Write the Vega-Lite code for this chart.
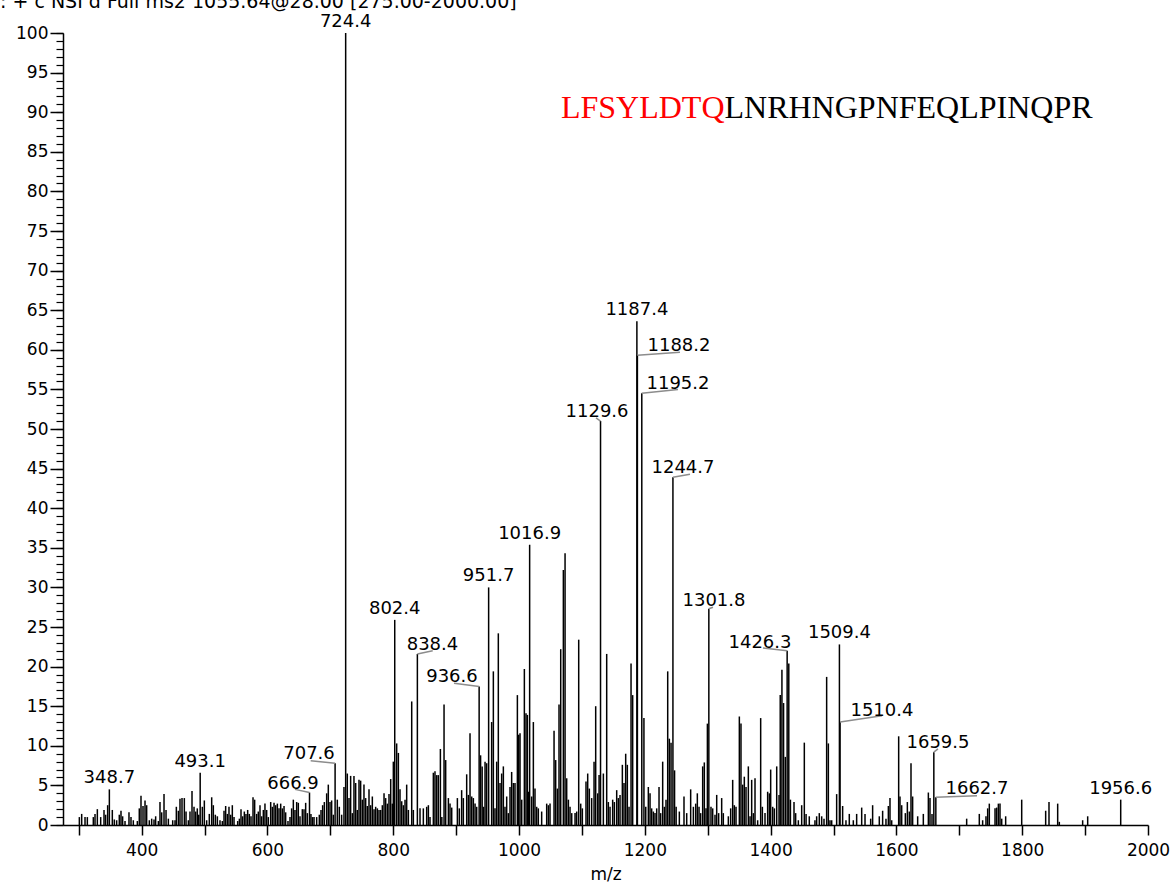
{
  "$schema": "https://vega.github.io/schema/vega-lite/v6.json",
  "autosize": {"type": "none"},
  "width": 1085,
  "height": 792,
  "padding": {"left": 63, "top": 33, "right": 26, "bottom": 61},
  "background": "white",
  "config": {
    "view": {"stroke": null},
    "font": "DejaVu Sans",
    "axis": {"grid": false, "domainColor": "black", "tickColor": "black", "labelColor": "black", "titleColor": "black", "labelFont": "DejaVu Sans", "titleFont": "DejaVu Sans"}
  },
  "title": {
    "text": ": + c NSI d Full ms2 1055.64@28.00 [275.00-2000.00]",
    "anchor": "start",
    "frame": "group",
    "dx": -63,
    "dy": 1,
    "offset": 2,
    "fontSize": 19,
    "fontWeight": "normal",
    "font": "DejaVu Sans",
    "color": "black"
  },
  "datasets": {
    "peaks": [
      {"mz":301.0,"i":1.0},{"mz":304.7,"i":1.4},{"mz":310.0,"i":1.0},{"mz":313.7,"i":1.0},{"mz":323.2,"i":1.0},{"mz":325.9,"i":1.4},{"mz":329.6,"i":2.0},{"mz":334.9,"i":1.0},{"mz":340.2,"i":1.9},{"mz":342.8,"i":1.3},{"mz":346.0,"i":2.5},{"mz":348.7,"i":4.5},{"mz":353.4,"i":1.9},{"mz":356.6,"i":0.7},{"mz":360.3,"i":0.6},{"mz":364.5,"i":1.3},{"mz":367.2,"i":1.8},{"mz":369.8,"i":1.1},{"mz":373.6,"i":0.5},{"mz":379.9,"i":1.6},{"mz":383.1,"i":1.0},{"mz":386.8,"i":0.6},{"mz":393.2,"i":0.5},{"mz":396.3,"i":2.1},{"mz":399.0,"i":3.7},{"mz":402.2,"i":2.4},{"mz":405.4,"i":3.1},{"mz":408.0,"i":2.5},{"mz":412.2,"i":0.6},{"mz":416.0,"i":0.8},{"mz":419.7,"i":0.7},{"mz":422.3,"i":1.1},{"mz":426.6,"i":0.5},{"mz":429.2,"i":2.9},{"mz":431.9,"i":1.6},{"mz":435.6,"i":3.9},{"mz":438.8,"i":1.9},{"mz":442.5,"i":0.8},{"mz":449.4,"i":0.6},{"mz":453.1,"i":0.6},{"mz":455.2,"i":2.3},{"mz":458.4,"i":1.8},{"mz":461.0,"i":3.3},{"mz":464.2,"i":3.4},{"mz":467.9,"i":3.4},{"mz":470.6,"i":1.7},{"mz":474.3,"i":0.6},{"mz":476.9,"i":1.7},{"mz":480.1,"i":4.3},{"mz":483.3,"i":2.3},{"mz":485.9,"i":1.7},{"mz":488.5,"i":2.1},{"mz":490.8,"i":1.3},{"mz":493.1,"i":6.6},{"mz":496.5,"i":2.3},{"mz":499.7,"i":3.1},{"mz":503.4,"i":0.6},{"mz":507.6,"i":1.4},{"mz":511.4,"i":3.5},{"mz":514.0,"i":2.5},{"mz":517.2,"i":1.3},{"mz":520.4,"i":1.1},{"mz":524.6,"i":0.6},{"mz":528.3,"i":0.5},{"mz":531.0,"i":1.8},{"mz":533.6,"i":2.4},{"mz":536.3,"i":1.4},{"mz":538.9,"i":2.3},{"mz":541.6,"i":1.3},{"mz":544.2,"i":2.5},{"mz":546.9,"i":1.0},{"mz":552.7,"i":0.5},{"mz":555.4,"i":0.8},{"mz":558.0,"i":2.0},{"mz":560.6,"i":1.1},{"mz":563.3,"i":1.7},{"mz":565.9,"i":1.4},{"mz":568.6,"i":1.9},{"mz":571.2,"i":1.4},{"mz":573.9,"i":1.1},{"mz":577.1,"i":3.5},{"mz":579.7,"i":3.2},{"mz":582.9,"i":1.4},{"mz":585.5,"i":1.7},{"mz":588.2,"i":2.5},{"mz":590.8,"i":1.1},{"mz":593.5,"i":1.9},{"mz":596.1,"i":2.7},{"mz":598.8,"i":1.9},{"mz":601.4,"i":1.0},{"mz":605.2,"i":2.9},{"mz":607.8,"i":2.3},{"mz":610.5,"i":2.8},{"mz":613.1,"i":2.5},{"mz":615.8,"i":2.7},{"mz":618.4,"i":2.1},{"mz":621.1,"i":2.7},{"mz":623.7,"i":2.1},{"mz":626.4,"i":2.4},{"mz":629.0,"i":1.6},{"mz":632.7,"i":0.5},{"mz":635.9,"i":1.0},{"mz":638.5,"i":2.1},{"mz":641.2,"i":3.2},{"mz":643.8,"i":1.9},{"mz":646.5,"i":2.9},{"mz":649.1,"i":2.8},{"mz":651.8,"i":1.1},{"mz":655.5,"i":2.0},{"mz":658.2,"i":2.0},{"mz":660.8,"i":2.8},{"mz":663.5,"i":1.5},{"mz":666.9,"i":4.1},{"mz":669.2,"i":1.4},{"mz":671.6,"i":1.0},{"mz":674.1,"i":1.0},{"mz":678.3,"i":1.0},{"mz":682.5,"i":1.3},{"mz":685.2,"i":1.9},{"mz":687.8,"i":2.5},{"mz":690.5,"i":2.9},{"mz":694.2,"i":4.0},{"mz":696.8,"i":5.1},{"mz":699.5,"i":2.9},{"mz":702.1,"i":3.1},{"mz":704.8,"i":1.3},{"mz":707.6,"i":7.8},{"mz":711.1,"i":3.2},{"mz":714.3,"i":2.3},{"mz":718.0,"i":1.3},{"mz":721.7,"i":4.8},{"mz":724.4,"i":100},{"mz":727.0,"i":6.5},{"mz":729.7,"i":3.4},{"mz":732.3,"i":6.2},{"mz":735.0,"i":1.5},{"mz":737.6,"i":6.2},{"mz":740.3,"i":5.3},{"mz":742.9,"i":1.9},{"mz":745.6,"i":5.7},{"mz":748.2,"i":5.6},{"mz":750.9,"i":3.2},{"mz":753.5,"i":5.1},{"mz":756.2,"i":3.4},{"mz":758.8,"i":2.4},{"mz":761.5,"i":4.5},{"mz":764.1,"i":2.5},{"mz":766.8,"i":3.6},{"mz":769.5,"i":2.0},{"mz":772.1,"i":2.3},{"mz":774.8,"i":2.1},{"mz":777.4,"i":1.9},{"mz":780.1,"i":1.9},{"mz":782.7,"i":2.5},{"mz":785.4,"i":4.0},{"mz":788.0,"i":3.4},{"mz":790.7,"i":2.7},{"mz":793.3,"i":3.9},{"mz":796.0,"i":5.8},{"mz":798.6,"i":2.7},{"mz":800.2,"i":8.0},{"mz":802.4,"i":25.9},{"mz":805.5,"i":10.3},{"mz":808.2,"i":9.1},{"mz":810.8,"i":4.5},{"mz":813.5,"i":3.0},{"mz":816.1,"i":2.5},{"mz":818.8,"i":3.2},{"mz":821.4,"i":5.1},{"mz":824.1,"i":1.9},{"mz":829.4,"i":15.6},{"mz":832.0,"i":1.9},{"mz":838.4,"i":21.6},{"mz":842.6,"i":2.1},{"mz":847.9,"i":2.1},{"mz":853.2,"i":2.3},{"mz":855.9,"i":2.5},{"mz":858.5,"i":1.0},{"mz":863.8,"i":6.6},{"mz":866.4,"i":6.8},{"mz":869.1,"i":6.3},{"mz":871.7,"i":6.3},{"mz":875.0,"i":9.6},{"mz":877.3,"i":1.0},{"mz":880.8,"i":15.2},{"mz":883.4,"i":8.2},{"mz":887.7,"i":3.4},{"mz":890.3,"i":2.7},{"mz":893.0,"i":2.2},{"mz":902.0,"i":3.4},{"mz":905.1,"i":2.1},{"mz":908.8,"i":4.4},{"mz":911.5,"i":3.4},{"mz":916.8,"i":6.4},{"mz":919.5,"i":3.8},{"mz":922.1,"i":11.6},{"mz":924.8,"i":3.6},{"mz":927.4,"i":3.4},{"mz":930.1,"i":2.7},{"mz":932.7,"i":2.3},{"mz":936.6,"i":17.5},{"mz":938.9,"i":8.8},{"mz":941.4,"i":7.4},{"mz":943.6,"i":2.3},{"mz":946.0,"i":8.0},{"mz":948.6,"i":7.8},{"mz":951.7,"i":30.0},{"mz":956.5,"i":13.0},{"mz":959.2,"i":19.4},{"mz":961.8,"i":2.1},{"mz":964.5,"i":8.0},{"mz":967.1,"i":24.2},{"mz":969.8,"i":5.3},{"mz":972.4,"i":6.5},{"mz":975.1,"i":7.4},{"mz":977.7,"i":2.3},{"mz":980.4,"i":3.6},{"mz":983.0,"i":1.5},{"mz":985.7,"i":4.8},{"mz":988.3,"i":6.7},{"mz":991.0,"i":5.3},{"mz":993.6,"i":5.3},{"mz":997.4,"i":16.4},{"mz":999.5,"i":11.4},{"mz":1001.6,"i":11.6},{"mz":1004.3,"i":3.2},{"mz":1008.5,"i":19.7},{"mz":1011.1,"i":14.1},{"mz":1013.3,"i":13.9},{"mz":1014.8,"i":4.2},{"mz":1016.9,"i":35.4},{"mz":1020.1,"i":3.6},{"mz":1022.8,"i":13.0},{"mz":1025.4,"i":4.6},{"mz":1028.1,"i":2.3},{"mz":1030.7,"i":2.1},{"mz":1036.0,"i":1.7},{"mz":1044.0,"i":2.7},{"mz":1046.7,"i":2.5},{"mz":1049.3,"i":2.7},{"mz":1055.7,"i":11.9},{"mz":1058.3,"i":8.2},{"mz":1061.0,"i":4.6},{"mz":1063.6,"i":15.2},{"mz":1066.3,"i":22.2},{"mz":1070.5,"i":32.2},{"mz":1073.2,"i":34.3},{"mz":1075.8,"i":5.9},{"mz":1078.5,"i":3.2},{"mz":1081.1,"i":2.3},{"mz":1083.8,"i":1.5},{"mz":1089.1,"i":1.5},{"mz":1091.7,"i":1.7},{"mz":1094.9,"i":23.4},{"mz":1098.1,"i":2.7},{"mz":1100.7,"i":2.1},{"mz":1106.5,"i":5.5},{"mz":1109.2,"i":6.5},{"mz":1111.8,"i":4.6},{"mz":1115.5,"i":3.4},{"mz":1119.3,"i":8.0},{"mz":1121.9,"i":15.0},{"mz":1125.1,"i":4.0},{"mz":1127.3,"i":6.3},{"mz":1129.6,"i":51.0},{"mz":1134.1,"i":6.5},{"mz":1139.4,"i":21.6},{"mz":1142.0,"i":2.9},{"mz":1144.7,"i":2.3},{"mz":1148.9,"i":3.2},{"mz":1151.6,"i":2.9},{"mz":1155.3,"i":4.4},{"mz":1157.9,"i":3.4},{"mz":1160.6,"i":3.8},{"mz":1164.3,"i":7.6},{"mz":1166.9,"i":5.3},{"mz":1169.6,"i":9.0},{"mz":1172.2,"i":7.6},{"mz":1174.9,"i":2.3},{"mz":1178.1,"i":20.4},{"mz":1180.7,"i":16.4},{"mz":1187.4,"i":63.6},{"mz":1188.2,"i":59.3},{"mz":1195.2,"i":54.5},{"mz":1198.6,"i":13.5},{"mz":1201.5,"i":2.3},{"mz":1205.6,"i":4.8},{"mz":1208.3,"i":4.0},{"mz":1210.9,"i":2.1},{"mz":1213.6,"i":1.7},{"mz":1216.2,"i":1.5},{"mz":1218.9,"i":2.1},{"mz":1222.6,"i":4.8},{"mz":1225.2,"i":1.5},{"mz":1228.4,"i":8.0},{"mz":1231.1,"i":2.3},{"mz":1233.7,"i":3.2},{"mz":1236.4,"i":19.4},{"mz":1239.0,"i":10.9},{"mz":1241.7,"i":10.4},{"mz":1244.7,"i":43.9},{"mz":1247.3,"i":6.9},{"mz":1249.8,"i":2.3},{"mz":1254.9,"i":1.7},{"mz":1262.3,"i":3.6},{"mz":1266.6,"i":1.5},{"mz":1272.9,"i":4.5},{"mz":1277.2,"i":2.3},{"mz":1280.9,"i":2.7},{"mz":1283.5,"i":4.0},{"mz":1286.2,"i":2.3},{"mz":1288.8,"i":1.5},{"mz":1292.0,"i":7.4},{"mz":1294.6,"i":7.9},{"mz":1297.3,"i":2.1},{"mz":1299.5,"i":12.8},{"mz":1301.8,"i":27.3},{"mz":1305.2,"i":2.3},{"mz":1307.9,"i":2.1},{"mz":1311.6,"i":1.3},{"mz":1314.3,"i":3.8},{"mz":1317.4,"i":1.5},{"mz":1322.2,"i":3.4},{"mz":1324.8,"i":1.5},{"mz":1332.8,"i":1.1},{"mz":1336.5,"i":2.1},{"mz":1339.7,"i":5.7},{"mz":1342.3,"i":2.5},{"mz":1345.0,"i":2.3},{"mz":1350.3,"i":13.7},{"mz":1352.9,"i":12.8},{"mz":1355.6,"i":5.1},{"mz":1358.2,"i":6.1},{"mz":1360.9,"i":4.8},{"mz":1364.6,"i":7.4},{"mz":1367.3,"i":1.1},{"mz":1369.9,"i":5.7},{"mz":1372.6,"i":1.5},{"mz":1375.2,"i":5.9},{"mz":1379.4,"i":0.6},{"mz":1384.2,"i":13.5},{"mz":1386.9,"i":2.3},{"mz":1391.1,"i":1.5},{"mz":1395.3,"i":4.2},{"mz":1398.0,"i":4.0},{"mz":1400.1,"i":7.0},{"mz":1403.3,"i":2.3},{"mz":1406.0,"i":2.1},{"mz":1409.7,"i":7.4},{"mz":1413.4,"i":3.8},{"mz":1415.3,"i":16.4},{"mz":1418.0,"i":19.6},{"mz":1420.6,"i":15.4},{"mz":1423.4,"i":8.6},{"mz":1426.3,"i":22.0},{"mz":1428.9,"i":20.4},{"mz":1431.5,"i":3.2},{"mz":1437.2,"i":2.9},{"mz":1439.8,"i":1.5},{"mz":1444.1,"i":0.6},{"mz":1449.4,"i":2.5},{"mz":1453.6,"i":10.4},{"mz":1456.4,"i":1.4},{"mz":1461.5,"i":1.1},{"mz":1470.5,"i":0.6},{"mz":1473.2,"i":1.1},{"mz":1477.4,"i":1.5},{"mz":1481.2,"i":1.1},{"mz":1484.9,"i":0.8},{"mz":1489.1,"i":18.7},{"mz":1491.8,"i":10.3},{"mz":1494.4,"i":0.6},{"mz":1497.1,"i":0.6},{"mz":1505.0,"i":3.9},{"mz":1509.4,"i":22.8},{"mz":1510.4,"i":13.0},{"mz":1514.5,"i":2.4},{"mz":1519.8,"i":0.6},{"mz":1525.1,"i":1.4},{"mz":1531.5,"i":0.6},{"mz":1536.8,"i":1.4},{"mz":1544.8,"i":2.2},{"mz":1550.1,"i":1.4},{"mz":1559.1,"i":0.8},{"mz":1562.2,"i":2.5},{"mz":1572.8,"i":1.1},{"mz":1578.1,"i":1.8},{"mz":1583.4,"i":0.8},{"mz":1587.2,"i":2.4},{"mz":1589.8,"i":3.4},{"mz":1592.5,"i":0.6},{"mz":1603.6,"i":11.2},{"mz":1605.7,"i":3.6},{"mz":1608.4,"i":2.5},{"mz":1614.2,"i":1.5},{"mz":1617.4,"i":2.9},{"mz":1620.5,"i":1.7},{"mz":1623.2,"i":7.8},{"mz":1625.8,"i":3.6},{"mz":1633.8,"i":1.1},{"mz":1642.8,"i":1.4},{"mz":1650.8,"i":4.1},{"mz":1653.4,"i":3.4},{"mz":1656.6,"i":1.4},{"mz":1659.5,"i":9.2},{"mz":1662.7,"i":3.5},{"mz":1711.7,"i":0.8},{"mz":1731.8,"i":1.4},{"mz":1737.1,"i":0.6},{"mz":1742.4,"i":1.1},{"mz":1745.1,"i":2.1},{"mz":1747.7,"i":2.7},{"mz":1756.8,"i":2.1},{"mz":1759.4,"i":2.2},{"mz":1762.1,"i":2.7},{"mz":1764.7,"i":2.7},{"mz":1767.4,"i":0.8},{"mz":1773.7,"i":1.1},{"mz":1799.2,"i":3.2},{"mz":1837.3,"i":1.8},{"mz":1842.6,"i":2.9},{"mz":1856.4,"i":2.7},{"mz":1859.0,"i":0.4},{"mz":1896.1,"i":0.6},{"mz":1904.1,"i":1.1},{"mz":1956.6,"i":3.2}
    ],
    "labels": [
      {"mz":348.7,"i":4.5,"t":"348.7"},
      {"mz":493.1,"i":6.6,"t":"493.1"},
      {"mz":724.4,"i":100,"t":"724.4"},
      {"mz":802.4,"i":25.9,"t":"802.4"},
      {"mz":951.7,"i":30.0,"t":"951.7"},
      {"mz":1016.9,"i":35.4,"t":"1016.9"},
      {"mz":1187.4,"i":63.6,"t":"1187.4"},
      {"mz":1509.4,"i":22.8,"t":"1509.4"},
      {"mz":1956.6,"i":3.2,"t":"1956.6"},
      {"mz":666.9,"i":4.1,"t":"666.9","tx":640.7,"ty":4.55,"ex":643.8,"ey":4.5},
      {"mz":707.6,"i":7.8,"t":"707.6","tx":666.1,"ty":8.33,"ex":668.8,"ey":8.12},
      {"mz":838.4,"i":21.6,"t":"838.4","tx":862.4,"ty":22.1,"ex":862.8,"ey":22.0},
      {"mz":936.6,"i":17.5,"t":"936.6","tx":893.4,"ty":18.1,"ex":896.6,"ey":17.9},
      {"mz":1129.6,"i":51.0,"t":"1129.6","tx":1124.0,"ty":51.5,"ex":1122.4,"ey":51.4},
      {"mz":1188.2,"i":59.3,"t":"1188.2","tx":1254.3,"ty":59.85,"ex":1255.9,"ey":59.7},
      {"mz":1195.2,"i":54.5,"t":"1195.2","tx":1252.7,"ty":55.05,"ex":1252.7,"ey":55.0},
      {"mz":1244.7,"i":43.9,"t":"1244.7","tx":1260.7,"ty":44.4,"ex":1271.8,"ey":44.3},
      {"mz":1301.8,"i":27.3,"t":"1301.8","tx":1310.0,"ty":27.65,"ex":1308.4,"ey":27.5},
      {"mz":1426.3,"i":22.0,"t":"1426.3","tx":1383.1,"ty":22.35,"ex":1387.9,"ey":22.35},
      {"mz":1510.4,"i":13.0,"t":"1510.4","tx":1577.0,"ty":13.76,"ex":1577.0,"ey":13.8},
      {"mz":1659.5,"i":9.2,"t":"1659.5","tx":1666.1,"ty":9.72,"ex":1666.1,"ey":9.6},
      {"mz":1662.7,"i":3.5,"t":"1662.7","tx":1728.1,"ty":3.91,"ex":1728.1,"ey":3.7}
    ],
    "sequence": [
      {"seg": "LFSYLDTQ", "part": "cleaved", "at": 1326.7, "lvl": 89.3},
      {"seg": "LNRHNGPNFEQLPINQPR", "part": "rest", "at": 1326.7, "lvl": 89.3}
    ]
  },
  "layer": [
    {
      "data": {"name": "peaks"},
      "mark": {"type": "rule", "color": "black", "strokeWidth": 1.5},
      "encoding": {
        "x": {
          "field": "mz", "type": "quantitative",
          "scale": {"domain": [275, 2000], "nice": false, "zero": false},
          "axis": {
            "title": "m/z",
            "orient": "bottom",
            "values": [300,350,400,450,500,550,600,650,700,750,800,850,900,950,1000,1050,1100,1150,1200,1250,1300,1350,1400,1450,1500,1550,1600,1650,1700,1750,1800,1850,1900,1950,2000],
            "format": "d",
            "labelExpr": "datum.value % 200 == 0 ? datum.label : ''",
            "tickSize": 10, "tickWidth": 1.5, "domainWidth": 1.5,
            "labelFontSize": 17, "labelPadding": 7, "labelFlush": false, "labelOverlap": false,
            "titleFontSize": 17, "titleFontWeight": "normal", "titlePadding": 8
          }
        },
        "y": {
          "field": "i", "type": "quantitative",
          "scale": {"domain": [0, 100], "nice": false, "zero": true},
          "axis": {
            "orient": "left", "title": null,
            "values": [0,5,10,15,20,25,30,35,40,45,50,55,60,65,70,75,80,85,90,95,100],
            "format": "d",
            "tickSize": 13, "tickWidth": 1.5, "domainWidth": 1.5,
            "labelFontSize": 17, "labelPadding": 2, "labelFlush": false, "labelOverlap": false
          }
        },
        "y2": {"datum": 0}
      }
    },
    {
      "data": {"name": "peaks"},
      "mark": {"type": "point", "opacity": 0},
      "encoding": {
        "x": {"field": "mz", "type": "quantitative"},
        "y": {
          "field": "i", "type": "quantitative",
          "axis": {
            "orient": "left", "title": null, "labels": false, "domain": false,
            "values": [0,1,2,3,4,5,6,7,8,9,10,11,12,13,14,15,16,17,18,19,20,21,22,23,24,25,26,27,28,29,30,31,32,33,34,35,36,37,38,39,40,41,42,43,44,45,46,47,48,49,50,51,52,53,54,55,56,57,58,59,60,61,62,63,64,65,66,67,68,69,70,71,72,73,74,75,76,77,78,79,80,81,82,83,84,85,86,87,88,89,90,91,92,93,94,95,96,97,98,99,100],
            "tickSize": 7, "tickWidth": 1.2
          }
        }
      }
    },
    {
      "data": {"name": "labels"},
      "transform": [{"filter": "isValid(datum.ex)"}],
      "mark": {"type": "rule", "color": "#8c8c8c", "strokeWidth": 1.5},
      "encoding": {
        "x": {"field": "mz", "type": "quantitative"},
        "y": {"field": "i", "type": "quantitative", "axis": null},
        "x2": {"field": "ex"},
        "y2": {"field": "ey"}
      }
    },
    {
      "data": {"name": "labels"},
      "transform": [{"filter": "!isValid(datum.tx)"}],
      "mark": {"type": "text", "fontSize": 18, "font": "DejaVu Sans", "color": "black", "align": "center", "baseline": "alphabetic", "dy": -6},
      "encoding": {
        "x": {"field": "mz", "type": "quantitative"},
        "y": {"field": "i", "type": "quantitative", "axis": null},
        "text": {"field": "t"}
      }
    },
    {
      "data": {"name": "labels"},
      "transform": [{"filter": "isValid(datum.tx)"}],
      "mark": {"type": "text", "fontSize": 18, "font": "DejaVu Sans", "color": "black", "align": "center", "baseline": "alphabetic"},
      "encoding": {
        "x": {"field": "tx", "type": "quantitative"},
        "y": {"field": "ty", "type": "quantitative", "axis": null},
        "text": {"field": "t"}
      }
    },
    {
      "data": {"name": "sequence"},
      "transform": [{"filter": "datum.part == 'cleaved'"}],
      "mark": {"type": "text", "fontSize": 32, "font": "Liberation Serif", "color": "#ff0000", "align": "right", "baseline": "alphabetic"},
      "encoding": {
        "x": {"field": "at", "type": "quantitative"},
        "y": {"field": "lvl", "type": "quantitative", "axis": null},
        "text": {"field": "seg"}
      }
    },
    {
      "data": {"name": "sequence"},
      "transform": [{"filter": "datum.part == 'rest'"}],
      "mark": {"type": "text", "fontSize": 32, "font": "Liberation Serif", "color": "black", "align": "left", "baseline": "alphabetic"},
      "encoding": {
        "x": {"field": "at", "type": "quantitative"},
        "y": {"field": "lvl", "type": "quantitative", "axis": null},
        "text": {"field": "seg"}
      }
    }
  ],
  "resolve": {"axis": {"y": "independent"}}
}
